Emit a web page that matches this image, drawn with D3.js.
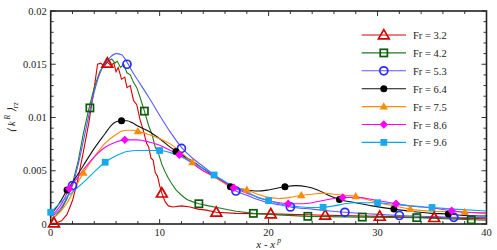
<!DOCTYPE html>
<html><head><meta charset="utf-8">
<script src="https://cdn.jsdelivr.net/npm/d3@7"></script>
<style>body{margin:0;background:#fff}svg{display:block}</style>
</head><body><svg id="c" width="497" height="250" font-family="'Liberation Serif','Times New Roman',Times,serif"></svg>
<script>
const seriesNames = ["Fr = 3.2","Fr = 4.2","Fr = 5.3","Fr = 6.4","Fr = 7.5","Fr = 8.6","Fr = 9.6"];
const xTicks = [0,10,20,30,40];
const yTicks = [0,0.005,0.01,0.015,0.02];
const yTickLabels = ["0","0.005","0.01","0.015","0.02"];

const fr32 = [[0,0.00005],[0.5,0.0001],[1,0.0003],[1.5,0.0009],[2,0.0022],[2.5,0.0042],[3,0.0068],[3.5,0.0095],[4,0.0128],[4.3,0.0150],[4.6,0.0151],[4.9,0.0148],[5.2,0.0152],[5.5,0.0149],[5.8,0.0151],[6.0,0.0143],[6.2,0.0147],[6.5,0.0136],[6.8,0.0138],[7.0,0.0128],[7.3,0.0130],[7.6,0.0116],[7.9,0.0112],[8.2,0.0098],[8.5,0.0088],[8.8,0.0076],[9.0,0.0072],[9.2,0.0062],[9.4,0.0060],[9.6,0.0048],[9.8,0.0045],[10.0,0.0036],[10.2,0.0029],[10.5,0.0021],[10.8,0.0017],[11.2,0.0016],[12,0.0017],[12.8,0.0016],[13.5,0.0014],[14.3,0.0013],[15.2,0.0011],[17,0.0010],[20.2,0.00095],[25.2,0.00082],[30.2,0.00072],[35.2,0.0006],[40,0.00048]];
const fr42 = [[0,0.0004],[0.5,0.0008],[1,0.0014],[1.5,0.0024],[2,0.0038],[2.5,0.0058],[3,0.0085],[3.5,0.0108],[4,0.0128],[4.5,0.0143],[5,0.0151],[5.3,0.0153],[5.6,0.0155],[5.9,0.0151],[6.1,0.0153],[6.4,0.0147],[6.7,0.0150],[7.0,0.0142],[7.3,0.0140],[7.6,0.0133],[7.9,0.0128],[8.2,0.0119],[8.6,0.0106],[9.0,0.0092],[9.3,0.0084],[9.6,0.0072],[9.9,0.0066],[10.2,0.0056],[10.5,0.0049],[10.8,0.0043],[11.1,0.0038],[11.5,0.0032],[12,0.0027],[12.5,0.0023],[13,0.0021],[13.6,0.0019],[14.5,0.0017],[15.5,0.0015],[17,0.0012],[18.6,0.001],[20,0.0009],[23.6,0.00072],[28.6,0.00065],[33.6,0.0006],[38.6,0.0004],[40,0.00035]];
const fr53 = [[0,0.0007],[0.5,0.0010],[1,0.0016],[1.5,0.0025],[2,0.0036],[2.5,0.0055],[3,0.0078],[3.5,0.0102],[4,0.0124],[4.5,0.0141],[5,0.0151],[5.5,0.0157],[6,0.0160],[6.5,0.0159],[7,0.0152],[7.5,0.0143],[8,0.0135],[9,0.0119],[10,0.0102],[11,0.0086],[12,0.0072],[13,0.0062],[14,0.0054],[15,0.0046],[16,0.0038],[17,0.0031],[18,0.0027],[19,0.0023],[20,0.0020],[21,0.0018],[22,0.0016],[24,0.0014],[27,0.0011],[30,0.0009],[32,0.0008],[35,0.0007],[37,0.00063],[40,0.0006]];
const fr64 = [[0,0.0009],[0.5,0.0015],[1,0.0023],[1.5,0.0032],[2,0.0039],[3,0.0055],[4,0.0071],[5,0.0085],[5.5,0.0092],[6,0.0096],[6.5,0.0097],[7,0.0097],[7.5,0.0095],[8,0.0092],[9,0.0087],[10,0.0080],[11,0.0072],[12,0.0065],[13,0.0059],[14,0.0052],[15,0.0045],[16,0.0039],[16.5,0.0036],[17,0.0034],[18,0.0032],[19,0.0031],[20,0.0032],[21.5,0.0035],[22.5,0.0036],[23.5,0.0035],[24.5,0.0032],[25.5,0.0027],[26.5,0.0023],[28,0.0020],[29.5,0.0017],[31.5,0.0014],[33,0.0012],[35,0.0010],[36.5,0.00094],[38,0.0008],[40,0.00075]];
const fr75 = [[0,0.0005],[0.5,0.0008],[1,0.0013],[1.5,0.0020],[2,0.0029],[2.5,0.0039],[3,0.0048],[4,0.0063],[5,0.0076],[6,0.0084],[6.5,0.0087],[7,0.0088],[7.5,0.0088],[8,0.0087],[9,0.0084],[10,0.0080],[11,0.0075],[12,0.0067],[13,0.0058],[14,0.0050],[15,0.0044],[16,0.0038],[17,0.0034],[18,0.0032],[19,0.0028],[20,0.0025],[21,0.0024],[22,0.0025],[23,0.0027],[24,0.0028],[25,0.0029],[26,0.0028],[27,0.0027],[28,0.0026],[29,0.0023],[30.5,0.0019],[32,0.0016],[33,0.0014],[35,0.0012],[38,0.00112],[40,0.00095]];
const fr86 = [[0,0.0007],[0.5,0.0012],[1,0.0019],[1.7,0.0033],[2.5,0.0044],[3,0.0051],[4,0.0063],[5,0.0072],[6,0.0077],[6.8,0.0079],[7.5,0.0079],[8,0.0079],[9,0.0077],[10,0.0074],[11,0.0069],[11.8,0.0065],[13,0.0057],[14,0.0050],[15,0.0045],[16,0.0039],[16.8,0.0034],[18,0.0029],[19,0.0025],[20,0.0022],[21,0.0020],[21.8,0.0019],[23,0.0019],[24,0.0020],[25,0.0022],[26,0.0024],[26.8,0.0025],[28,0.0025],[29,0.0024],[30,0.0022],[31.7,0.0019],[33,0.0017],[35,0.0015],[36.8,0.00125],[38,0.0011],[40,0.00105]];
const fr96 = [[0,0.0011],[1,0.0021],[2,0.0030],[3,0.0039],[4,0.0049],[5,0.0058],[6,0.0064],[7,0.0068],[8,0.0069],[9,0.0069],[10,0.0069],[11,0.0067],[12,0.0063],[13,0.0058],[14,0.0052],[15,0.0046],[16,0.0040],[17,0.0034],[18,0.0030],[19,0.0025],[20,0.0022],[21,0.0019],[22,0.0017],[23,0.0016],[24,0.00155],[25,0.00157],[26,0.0017],[27,0.0019],[28,0.0020],[29,0.0020],[30,0.0020],[31,0.0019],[32,0.0018],[33,0.0017],[35,0.00155],[37,0.0014],[40,0.00122]];

const mk32 = [[0.3,0.0001],[5.2,0.0151],[10.2,0.0029],[15.2,0.0011],[20.2,0.00095],[25.2,0.00082],[30.2,0.00072],[35.2,0.0006]];
const mk42 = [[3.6,0.0109],[8.6,0.0106],[13.6,0.0019],[18.6,0.001],[23.6,0.00072],[28.6,0.00065],[33.6,0.0006],[38.6,0.0004]];
const mk53 = [[2,0.0036],[7,0.0150],[12,0.0071],[17,0.0031],[22,0.0016],[27,0.0011],[32,0.0008],[37,0.00063]];
const mk64 = [[1.5,0.0032],[6.5,0.0097],[11.5,0.0068],[16.5,0.0035],[21.5,0.0035],[26.5,0.0023],[31.5,0.0014],[36.5,0.00094]];
const mk75 = [[3,0.0048],[8,0.0087],[13,0.0058],[18,0.0032],[23,0.0027],[28,0.0026],[33,0.0014],[38,0.00112]];
const mk86 = [[1.7,0.0033],[6.8,0.0079],[11.8,0.0065],[16.8,0.0034],[21.8,0.0019],[26.8,0.0025],[31.7,0.0019],[36.8,0.00125]];
const mk96 = [[0,0.0011],[5,0.0058],[10,0.0069],[15,0.0046],[20,0.0022],[25,0.00157],[30,0.002],[35,0.00155]];

const series = [
  {name:seriesNames[0], data:fr32, marks:mk32, color:"#d40000", mcolor:"#d40000", type:"tri", fill:false, smooth:false},
  {name:seriesNames[1], data:fr42, marks:mk42, color:"#1f7a1f", mcolor:"#0a5c0a", type:"sq", fill:false, smooth:false},
  {name:seriesNames[2], data:fr53, marks:mk53, color:"#5a5aff", mcolor:"#2a2aff", type:"circ", fill:false, smooth:true},
  {name:seriesNames[3], data:fr64, marks:mk64, color:"#111", mcolor:"#000", type:"dot", fill:true, smooth:true},
  {name:seriesNames[4], data:fr75, marks:mk75, color:"#ff8a00", mcolor:"#ff8a00", type:"ftri", fill:true, smooth:true},
  {name:seriesNames[5], data:fr86, marks:mk86, color:"#ff00ff", mcolor:"#ff00ff", type:"dia", fill:true, smooth:true},
  {name:seriesNames[6], data:fr96, marks:mk96, color:"#00a8f0", mcolor:"#1aa7f0", type:"fsq", fill:true, smooth:true}
];

const svg = d3.select("#c");
const L=50.7, R=486.5, T=11, B=224;
const x = d3.scaleLinear().domain([0,40]).range([L,R]);
const y = d3.scaleLinear().domain([0,0.02]).range([B,T]);
const FONT = "'Liberation Serif','Times New Roman',Times,serif";

const g = svg.append("g");
const minorX = d3.range(0,40.01,2), minorY = d3.range(0,0.02001,0.001);
minorX.forEach(v=>{
  const major = Math.abs(v%10)<1e-9;
  const len = major?5:3;
  g.append("line").attr("x1",x(v)).attr("x2",x(v)).attr("y1",B).attr("y2",B-len).attr("stroke","#333").attr("stroke-width",1);
  g.append("line").attr("x1",x(v)).attr("x2",x(v)).attr("y1",T).attr("y2",T+len).attr("stroke","#333").attr("stroke-width",1);
});
minorY.forEach((v,i)=>{
  const major = i%5===0;
  const len = major?5:3;
  g.append("line").attr("x1",L).attr("x2",L+len).attr("y1",y(v)).attr("y2",y(v)).attr("stroke","#333").attr("stroke-width",1);
  g.append("line").attr("x1",R).attr("x2",R-len).attr("y1",y(v)).attr("y2",y(v)).attr("stroke","#333").attr("stroke-width",1);
});
g.append("rect").attr("x",L).attr("y",T).attr("width",R-L).attr("height",B-T).attr("fill","none").attr("stroke","#222").attr("stroke-width",1.6);

xTicks.forEach(v=>{
  g.append("text").attr("x",x(v)).attr("y",B+12).attr("text-anchor","middle").attr("font-family",FONT).attr("font-size",10.5).attr("fill","#222").text(v);
});
yTicks.forEach((v,i)=>{
  g.append("text").attr("x",L-4).attr("y",y(v)+3.5).attr("text-anchor","end").attr("font-family",FONT).attr("font-size",10.5).attr("fill","#222").text(yTickLabels[i]);
});

const xl = svg.append("text").attr("x",(L+R)/2).attr("y",247.5).attr("text-anchor","middle").attr("font-family",FONT).attr("font-size",11).attr("font-style","italic").attr("fill","#222");
xl.append("tspan").text("x - x");
xl.append("tspan").attr("dy",-5).attr("font-size",7.5).text(" p");
const yl = svg.append("text").attr("transform",`translate(15,${(T+B)/2}) rotate(-90)`).attr("text-anchor","middle").attr("font-family",FONT).attr("font-size",10.5).attr("font-style","italic").attr("fill","#222");
yl.append("tspan").text("\u27E8 k");
yl.append("tspan").attr("dy",-5).attr("font-size",7.5).text(" R");
yl.append("tspan").attr("dy",5).text(" \u27E9");
yl.append("tspan").attr("dy",3).attr("font-size",7.5).text("rz");

function drawMarker(sel, s, cx, cy){
  if(s.type==="tri"){
    sel.append("path").attr("d",d3.symbol(d3.symbolTriangle,50)()).attr("transform",`translate(${cx},${cy+0.8})`).attr("fill","none").attr("stroke",s.mcolor).attr("stroke-width",1.7);
  } else if(s.type==="sq"){
    sel.append("rect").attr("x",cx-3.6).attr("y",cy-3.6).attr("width",7.2).attr("height",7.2).attr("fill","none").attr("stroke",s.mcolor).attr("stroke-width",1.7);
  } else if(s.type==="circ"){
    sel.append("circle").attr("cx",cx).attr("cy",cy).attr("r",4).attr("fill","none").attr("stroke",s.mcolor).attr("stroke-width",1.7);
  } else if(s.type==="dot"){
    sel.append("circle").attr("cx",cx).attr("cy",cy).attr("r",3.5).attr("fill",s.mcolor);
  } else if(s.type==="ftri"){
    sel.append("path").attr("d",d3.symbol(d3.symbolTriangle,30)()).attr("transform",`translate(${cx},${cy+0.5})`).attr("fill",s.mcolor);
  } else if(s.type==="dia"){
    sel.append("path").attr("d","M0,-4.2L4.2,0L0,4.2L-4.2,0Z").attr("transform",`translate(${cx},${cy})`).attr("fill",s.mcolor);
  } else if(s.type==="fsq"){
    sel.append("rect").attr("x",cx-3.4).attr("y",cy-3.4).attr("width",6.8).attr("height",6.8).attr("fill",s.mcolor);
  }
}

svg.append("clipPath").attr("id","clip").append("rect").attr("x",L).attr("y",T).attr("width",R-L).attr("height",B-T+2);
const plot = svg.append("g");
series.forEach(s=>{
  const line = d3.line().x(d=>x(d[0])).y(d=>y(d[1])).curve(s.smooth?d3.curveMonotoneX:d3.curveLinear);
  plot.append("path").datum(s.data).attr("d",line).attr("fill","none").attr("stroke",s.color).attr("stroke-width",1.1).attr("clip-path","url(#clip)");
});
series.forEach(s=>{
  const mg = plot.append("g");
  s.marks.forEach(m=>drawMarker(mg,s,x(m[0]),y(m[1])));
});

const lg = svg.append("g");
series.forEach((s,i)=>{
  const yy = 35 + i*17.9;
  lg.append("line").attr("x1",361.7).attr("x2",406).attr("y1",yy).attr("y2",yy).attr("stroke",s.color).attr("stroke-width",1.1);
  drawMarker(lg,s,383.8,yy);
  lg.append("text").attr("x",413).attr("y",yy+4).attr("font-family",FONT).attr("font-size",10.5).attr("fill","#222").text(s.name);
});
</script></body></html>
